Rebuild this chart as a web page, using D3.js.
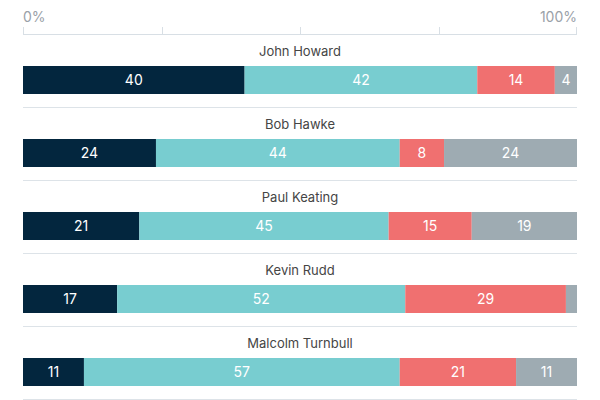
<!DOCTYPE html>
<html>
<head>
<meta charset="utf-8">
<script src="https://cdn.jsdelivr.net/npm/d3@7"></script>
<style>
  body { margin: 0; background: #fff; }
  svg { font-family: Inter, "Noto Sans", sans-serif; }
</style>
</head>
<body>
<div id="chart"></div>
<script>
// leaders, one bar each
var leaders = ["John Howard", "Bob Hawke", "Paul Keating", "Kevin Rudd", "Malcolm Turnbull"];
var keys = ["a", "b", "c", "d"];
var seriesA = [40, 24, 21, 17, 11];
var seriesB = [42, 44, 45, 52, 57];
var seriesC = [14, 8, 15, 29, 21];
var seriesD = [4, 24, 19, 2, 11];
var tickValues = [0, 25, 50, 75, 100];
var colors = ["#03263e", "#78cdd0", "#f07070", "#9eabb2"];

var rows = leaders.map(function(name, i) {
    return {name: name, a: seriesA[i], b: seriesB[i], c: seriesC[i], d: seriesD[i]};
});

var width = 600, height = 400;
var margin = {left: 23, right: 23};
var rowTop = 34, rowStep = 73;

var svg = d3.select("#chart").append("svg")
    .attr("width", width)
    .attr("height", height);

var x = d3.scaleLinear()
    .domain([0, 100])
    .range([margin.left, width - margin.right]);

var color = d3.scaleOrdinal().domain(keys).range(colors);

// top axis
var axis = svg.append("g")
    .attr("transform", "translate(0,34)");
axis.append("line")
    .attr("x1", x(0)).attr("x2", x(100))
    .attr("y1", 0.5).attr("y2", 0.5)
    .style("stroke", "#d8dfe5");
axis.selectAll("line.tick").data(tickValues).enter().append("line")
    .attr("class", "tick")
    .attr("x1", function(d) { return Math.round(x(d)) + (d == 100 ? -0.5 : 0.5); })
    .attr("x2", function(d) { return Math.round(x(d)) + (d == 100 ? -0.5 : 0.5); })
    .attr("y1", -7).attr("y2", 0.5)
    .style("stroke", "#d8dfe5");
axis.selectAll("text").data([0, 100]).enter().append("text")
    .attr("x", function(d) { return x(d); })
    .attr("y", -12)
    .attr("text-anchor", function(d) { return d == 0 ? "start" : "end"; })
    .style("fill", "#9aa1a8")
    .style("font-size", "14px")
    .text(function(d) { return d + "%"; });

var stacked = d3.stack().keys(keys)(rows);

var row = svg.selectAll("g.row").data(rows).enter().append("g")
    .attr("class", "row")
    .attr("transform", function(d, i) { return "translate(0," + (rowTop + i * rowStep) + ")"; });

row.append("text")
    .attr("x", x(50))
    .attr("y", 22)
    .attr("text-anchor", "middle")
    .style("fill", "#454545")
    .style("font-size", "13px")
    .text(function(d) { return d.name; });

row.append("line")
    .attr("x1", x(0)).attr("x2", x(100))
    .attr("y1", 73.5).attr("y2", 73.5)
    .style("stroke", "#dde3e8");

stacked.forEach(function(layer) {
    row.each(function(d, i) {
        var seg = layer[i];
        var g = d3.select(this);
        g.append("rect")
            .attr("x", x(seg[0]))
            .attr("width", x(seg[1]) - x(seg[0]))
            .attr("y", 32)
            .attr("height", 28)
            .style("fill", color(layer.key));
        var v = seg[1] - seg[0];
        if (v >= 4) {
            g.append("text")
                .attr("x", (x(seg[0]) + x(seg[1])) / 2)
                .attr("y", 46)
                .attr("dy", "0.36em")
                .attr("text-anchor", "middle")
                .style("fill", "#fff")
                .style("font-size", "14px")
                .text(v);
        }
    });
});
</script>
</body>
</html>
